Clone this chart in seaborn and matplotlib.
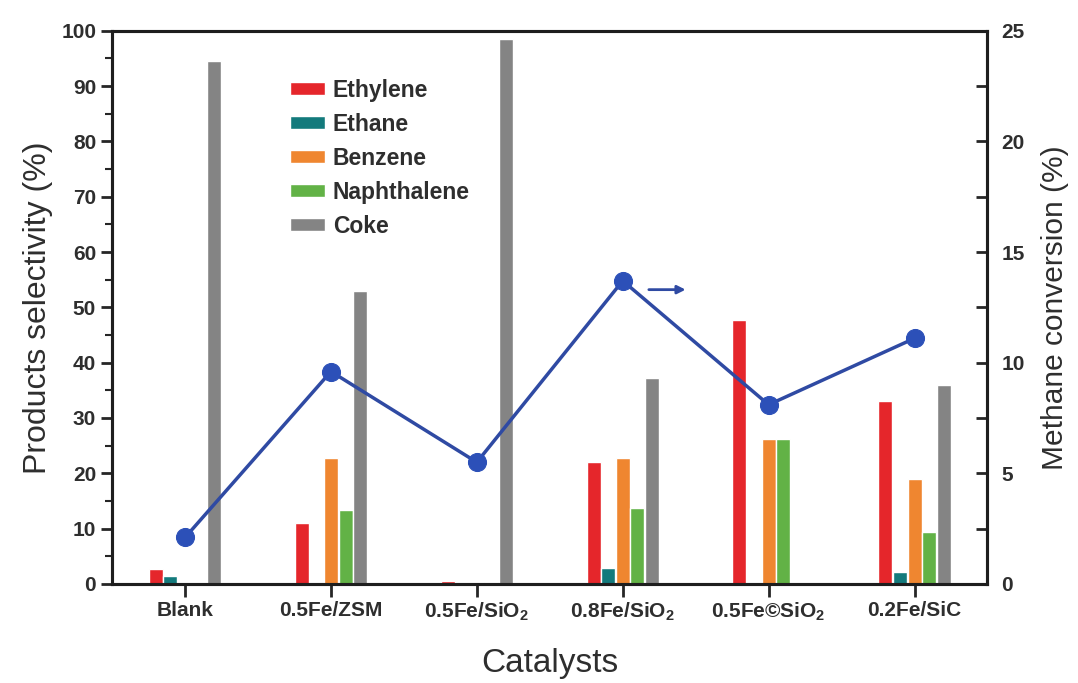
import matplotlib
matplotlib.use("Agg")
import matplotlib.pyplot as plt
import seaborn as sns
import numpy as np
import pandas as pd

# values
catalysts = ["Blank", "0.5Fe/ZSM", "0.5Fe/SiO2", "0.8Fe/SiO2", "0.5Fe©SiO2", "0.2Fe/SiC"]
tick_labels = ["Blank", "0.5Fe/ZSM", "0.5Fe/SiO$_2$", "0.8Fe/SiO$_2$",
               "0.5Fe©SiO$_2$", "0.2Fe/SiC"]
products = ["Ethylene", "Ethane", "Benzene", "Naphthalene", "Coke"]
ethylene = [2.7, 11.1, 0.6, 22.1, 47.8, 33.0]
ethane = [1.5, 0.0, 0.0, 2.9, 0.0, 2.2]
benzene = [0.0, 22.8, 0.0, 22.7, 26.2, 19.0]
naphthalene = [0.0, 13.3, 0.4, 13.8, 26.2, 9.4]
coke = [94.5, 52.9, 98.5, 37.2, 0.0, 36.0]
conversion = [2.1, 9.6, 5.5, 13.7, 8.1, 11.1]

COLORS = {
    "Ethylene"   : "#E5262B",
    "Ethane"     : "#137A7C",
    "Benzene"    : "#EF8630",
    "Naphthalene": "#62B246",
    "Coke"       : "#848484",
}
LINE_COLOR = "#2F4AA3"
TEXT_COLOR = "#2E2E2E"

sns.set_style("ticks")
plt.rcParams["font.family"] = ["Liberation Sans", "DejaVu Sans"]
plt.rcParams["mathtext.default"] = "regular"

df = pd.DataFrame({
    "catalyst": np.repeat(catalysts, len(products)),
    "product": products * len(catalysts),
    "value": np.array([ethylene, ethane, benzene, naphthalene, coke]).T.ravel(),
})

fig = plt.figure(figsize=(10.78, 6.83), dpi=100)
ax = fig.add_axes([0.104, 0.145, 0.812, 0.81])

sns.barplot(data=df, x="catalyst", y="value", hue="product",
            hue_order=products, palette=COLORS, width=0.5, gap=0.04,
            saturation=1, ax=ax)

ax.set_ylim(0, 100)
ax.set_xlim(-0.5, 5.5)
ax.set_yticks(np.arange(0, 101, 10))
ax.set_yticks(np.arange(0, 101, 5), minor=True)
ax.set_xticks(range(len(catalysts)))
ax.set_xticklabels(tick_labels, fontsize=15, fontweight="bold", color=TEXT_COLOR)
ax.tick_params(axis="y", which="major", length=8, width=2, labelsize=15,
               labelcolor=TEXT_COLOR, direction="out")
ax.tick_params(axis="y", which="minor", length=5, width=1.5, direction="out")
ax.tick_params(axis="x", length=9, width=2, pad=3)
for lbl in ax.get_yticklabels():
    lbl.set_fontweight("bold")
for s in ax.spines.values():
    s.set_visible(True)
    s.set_linewidth(2.2)
    s.set_color("#1E1E1E")

ax.set_xlabel("Catalysts", fontsize=24, color=TEXT_COLOR, labelpad=18)
ax.set_ylabel("Products selectivity (%)", fontsize=23, color=TEXT_COLOR, labelpad=6)

ax.legend(loc="upper left", bbox_to_anchor=(0.18, 0.95), frameon=False,
          handlelength=1.5, handleheight=0.5, handletextpad=0.35,
          labelspacing=0.48, prop={"size": 16.5, "weight": "bold"},
          labelcolor=TEXT_COLOR)

# methane conversion on the right axis
ax2 = ax.twinx()
sns.lineplot(x=np.arange(len(catalysts)), y=conversion, ax=ax2,
             color=LINE_COLOR, linewidth=2.5, marker="o", markersize=13,
             markerfacecolor="#2C50B8", markeredgecolor="#2C50B8")
ax2.set_ylim(0, 25)
ax2.set_yticks(np.arange(0, 26, 5))
ax2.set_yticks(np.arange(0, 26, 2.5), minor=True)
ax2.tick_params(axis="y", which="major", length=8, width=2, direction="in",
                labelsize=15, labelcolor=TEXT_COLOR, pad=10)
ax2.tick_params(axis="y", which="minor", length=8, width=2, direction="in")
for lbl in ax2.get_yticklabels():
    lbl.set_fontweight("bold")
for s in ax2.spines.values():
    s.set_linewidth(2.2)
    s.set_color("#1E1E1E")
ax2.set_ylabel("Methane conversion (%)", fontsize=21.5, color=TEXT_COLOR, labelpad=12)

ax2.annotate("", xy=(3.45, 13.3), xytext=(3.16, 13.3),
             arrowprops=dict(arrowstyle="-|>", color=LINE_COLOR, lw=2,
                             mutation_scale=12))

plt.savefig("out.png", dpi=100)
